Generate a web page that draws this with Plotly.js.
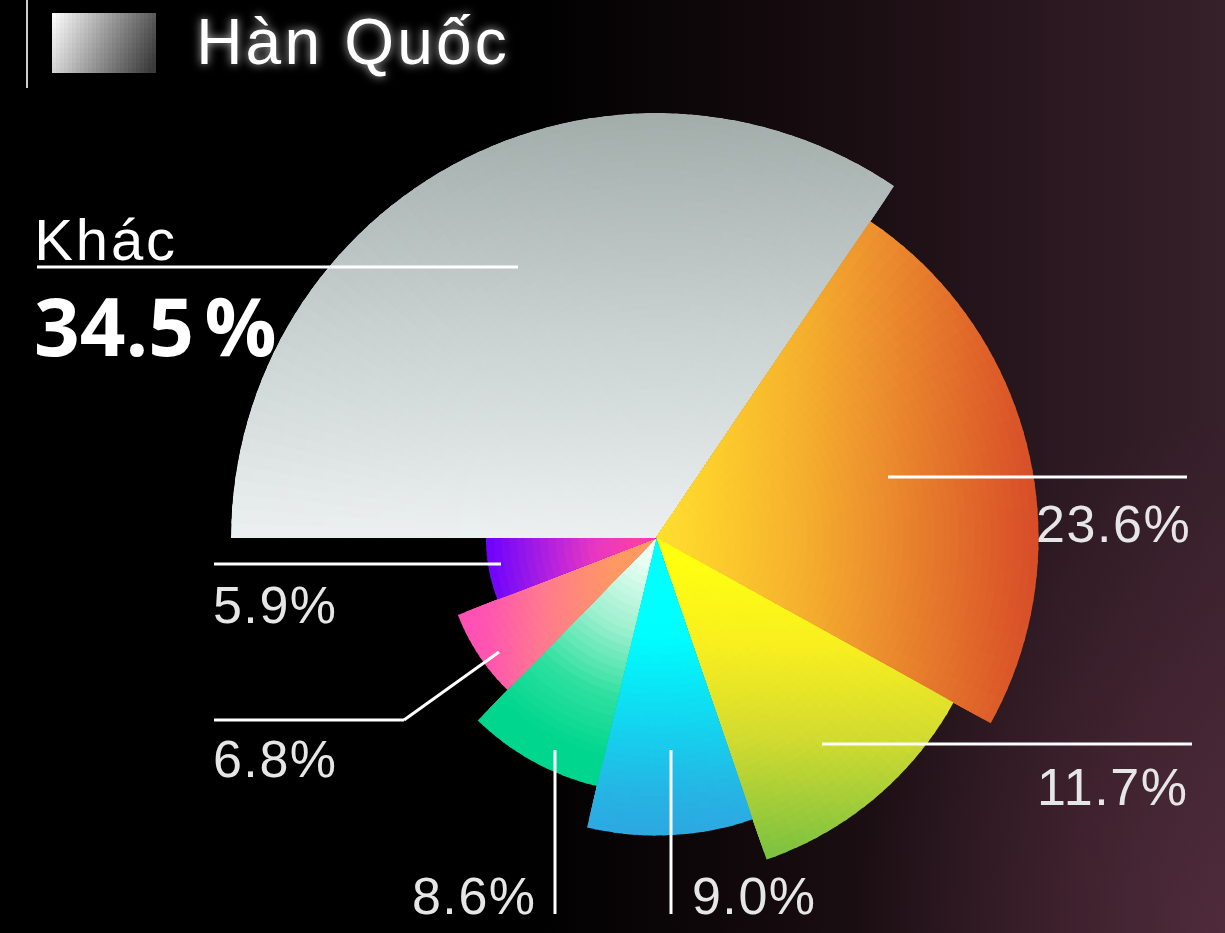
<!DOCTYPE html>
<html>
<head>
<meta charset="utf-8">
<script src="https://cdn.plot.ly/plotly-3.0.1.min.js"></script>
<style>
html,body{margin:0;padding:0;width:1225px;height:933px;overflow:hidden;background:#000;}
#wrap{position:relative;width:1225px;height:933px;overflow:hidden;
  background:
    radial-gradient(ellipse 30% 55% at 100% 100%, rgba(100,52,72,0.55), rgba(100,52,72,0) 100%),
    linear-gradient(90deg,#000 0%,#000 42%,#0e0709 58%,#1c0f14 72%,#2b1820 86%,#36202a 100%);}
#chart{position:absolute;left:0;top:0;width:1225px;height:1000px;}
.annotation text{letter-spacing:0.03em;}
.annotation[data-index="0"] text,.annotation[data-index="1"] text{letter-spacing:0.05em;}
.annotation[data-index="2"] text{letter-spacing:0;}
</style>
</head>
<body>
<div id="wrap"><div id="chart"></div></div>
<script>
// ---------------- data ----------------
const seriesName = "Hàn Quốc";
const categories = ["Khác", "Nhóm 2", "Nhóm 3", "Nhóm 4", "Nhóm 5", "Nhóm 6", "Nhóm 7"];
const values = [34.5, 23.6, 11.7, 9.0, 8.6, 6.8, 5.9];
const valueLabels = values.map(v => v.toFixed(1) + "%");

// ---------------- styles ----------------
const W = 1225, H = 1000;
const CX = 656, CY = 538, R_PX = 425;
const RADIUS_STEP = 0.1;      // each following slice is drawn a bit shorter
const ANG_STEP = 2.0;         // degrees per gradient cell
const RAD_STEP_PX = 8;        // px per gradient band
const OVERLAP = 0.6;          // degrees of overlap between neighbouring cells (hides seams)

// gradient definitions (pixel offsets from centre, y up)
const GRADIENTS = [
  {type:"linear", p0:[0,0], p1:[0,420], stops:[[0,"#ecf0f0"],[0.5,"#c9d1d1"],[1,"#a3aeab"]]},
  {type:"linear", p0:[0,0], p1:[385,0], stops:[[0,"#ffe033"],[0.13,"#fdd02c"],[0.38,"#f5b02e"],[0.58,"#ec8f2e"],[0.9,"#dc5a29"],[1,"#d64c28"]]},
  {type:"linear", p0:[0,-20], p1:[0,-320], stops:[[0,"#ffff10"],[0.3,"#f8ee20"],[0.6,"#d2db30"],[1,"#7ac141"]]},
  {type:"linear", p0:[0,-80], p1:[0,-300], stops:[[0,"#00ffff"],[0.1,"#00fcff"],[0.45,"#12d8f0"],[0.8,"#26b4e4"],[1,"#2ea6e0"]]},
  {type:"radial", r0:25, r1:225, stops:[[0,"#eafff4"],[0.35,"#9ef0cf"],[0.7,"#2ee0a0"],[1,"#00d68e"]]},
  {type:"linear", p0:[-40,0], p1:[-200,0], stops:[[0,"#ff9a62"],[0.45,"#ff7a8e"],[0.8,"#ff55b0"],[1,"#ff4eb8"]]},
  {type:"linear", p0:[-20,0], p1:[-170,0], stops:[[0,"#fa3fac"],[0.27,"#e838c0"],[0.5,"#c026d8"],[0.77,"#8e14ee"],[1,"#6c00ff"]]}
];

function hex(c){return [parseInt(c.slice(1,3),16),parseInt(c.slice(3,5),16),parseInt(c.slice(5,7),16)];}
function interp(stops,t){
  t=Math.max(0,Math.min(1,t));
  for(let i=1;i<stops.length;i++){
    if(t<=stops[i][0]){
      const a=stops[i-1],b=stops[i];
      const u=(t-a[0])/((b[0]-a[0])||1);
      const ca=hex(a[1]),cb=hex(b[1]);
      return "rgb("+ca.map((v,k)=>Math.round(v+(cb[k]-v)*u)).join(",")+")";
    }
  }
  return stops[stops.length-1][1];
}
function colorAt(g,dx,dy,rc){
  let t;
  if(g.type==="radial"){t=(rc-g.r0)/(g.r1-g.r0);}
  else{
    const vx=g.p1[0]-g.p0[0], vy=g.p1[1]-g.p0[1];
    t=((dx-g.p0[0])*vx+(dy-g.p0[1])*vy)/(vx*vx+vy*vy);
  }
  return interp(g.stops,t);
}

// ---------------- build slices as nested barpolar cells ----------------
const total = values.reduce((a,b)=>a+b,0);
const cell = {r:[],theta:[],width:[],color:[]};
let start = 0;
values.forEach((v,i)=>{
  const span = v/total*360;
  const end = start + span;
  const rOut = 1 - RADIUS_STEP*i;
  const g = GRADIENTS[i];
  const nA = Math.max(4, Math.ceil(span/ANG_STEP));
  const nR = Math.ceil(rOut*R_PX/RAD_STEP_PX);
  const dA = span/nA, dR = rOut/nR;
  for(let k=nR-1;k>=0;k--){            // outer bands first, inner ones on top
    const rc = dR*(k+0.5)*R_PX;
    for(let a=0;a<nA;a++){
      const a0 = start + dA*a;
      const a1 = Math.min(start + dA*(a+1) + OVERLAP, end);
      const thc = start + dA*(a+0.5);
      const ang = (180-thc)*Math.PI/180;
      cell.r.push(dR*(k+1));
      cell.theta.push((a0+a1)/2); cell.width.push(a1-a0);
      cell.color.push(colorAt(g, rc*Math.cos(ang), rc*Math.sin(ang), rc));
    }
  }
  start = end;
});

const trace = {
  type:"barpolar", name:seriesName,
  r:cell.r, theta:cell.theta, width:cell.width,
  marker:{color:cell.color, line:{width:0}},
  hoverinfo:"skip", showlegend:false
};

// ---------------- decorations ----------------
const px = x => x/W, py = y => 1 - y/H;
const shapes = [];
function line(x0,y0,x1,y1,color,w){
  shapes.push({type:"line",xref:"paper",yref:"paper",x0:px(x0),y0:py(y0),x1:px(x1),y1:py(y1),
    line:{color:color||"#ffffff",width:w||3}});
}
// legend marker bar and square
line(27,0,27,88,"#cfcfcf",2);
const SQ = {x:52,y:13,w:104,h:60,cw:4,ch:5};
for(let ix=0; ix<SQ.w/SQ.cw; ix++){
  for(let iy=0; iy<SQ.h/SQ.ch; iy++){
    const fx=(ix+0.5)*SQ.cw/SQ.w, fy=(iy+0.5)*SQ.ch/SQ.h;
    const t = Math.min(1,(fx*0.8+fy*0.2)*1.05);
    const c = interp([[0,"#ffffff"],[0.5,"#9a9a9a"],[1,"#3a3a3a"]], t);
    shapes.push({type:"rect",xref:"paper",yref:"paper",
      x0:px(SQ.x+ix*SQ.cw),x1:px(SQ.x+(ix+1)*SQ.cw),
      y0:py(SQ.y+iy*SQ.ch),y1:py(SQ.y+(iy+1)*SQ.ch),
      fillcolor:c,line:{width:0},layer:"above"});
  }
}
// leader lines
line(37,267,518,267);
line(888,477,1187,477);
line(822,744,1192,744);
line(671,750,671,914);
line(555,750,555,914);
line(214,720,404,720); line(404,720,499,652);
line(214,564,501,564);

const annotations = [];
function label(text,x,baseline,fs,opt){
  opt=opt||{};
  const fam = opt.family||"Liberation Sans, Arial, sans-serif";
  const k = opt.k||0.3465;
  annotations.push({text:text,xref:"paper",yref:"paper",x:px(x),y:py(baseline-k*fs),
    xanchor:opt.xanchor||"left",yanchor:"middle",showarrow:false,borderpad:0,
    font:{family:fam,size:fs,color:opt.color||"#e6e6e6",weight:opt.weight||400,shadow:opt.shadow||"none"}});
}
label(seriesName,208,64,64,{color:"#ffffff",shadow:"0 0 10px rgba(255,255,255,0.75)"});
label(categories[0],39,260,58,{color:"#ffffff"});
const big = valueLabels[0].replace("%",'<span style="font-size:40px"> </span>%');
label(big,33,356,80,{color:"#ffffff",weight:700,family:"Open Sans, sans-serif",k:0.388});
label(valueLabels[1],1188,542,52,{xanchor:"right"});
label(valueLabels[2],1186,805,52,{xanchor:"right"});
label(valueLabels[3],694,914,52);
label(valueLabels[4],414,914,52);
label(valueLabels[5],215,777,52);
label(valueLabels[6],215,623,52);

const layout = {
  width:W, height:H,
  margin:{l:0,r:0,t:0,b:0,pad:0},
  paper_bgcolor:"rgba(0,0,0,0)", plot_bgcolor:"rgba(0,0,0,0)",
  showlegend:false,
  polar:{
    domain:{x:[(CX-R_PX)/W,(CX+R_PX)/W], y:[1-(CY+R_PX)/H, 1-(CY-R_PX)/H]},
    bgcolor:"rgba(0,0,0,0)", barmode:"overlay", hole:0,
    radialaxis:{visible:false, range:[0,1], showgrid:false},
    angularaxis:{visible:false, rotation:180, direction:"clockwise", showgrid:false}
  },
  shapes:shapes, annotations:annotations
};
Plotly.newPlot("chart",[trace],layout,{staticPlot:true,displayModeBar:false});
</script>
</body>
</html>
